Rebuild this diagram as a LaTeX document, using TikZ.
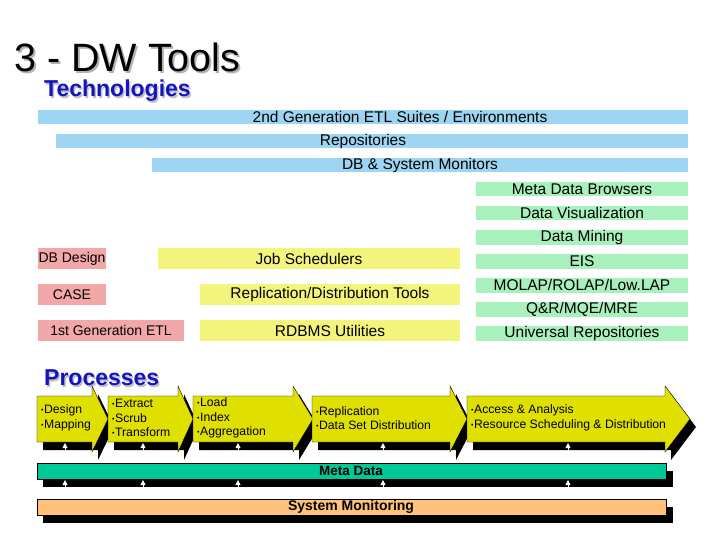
\documentclass[tikz,border=0pt]{standalone}
\usepackage{fontspec}
\usetikzlibrary{arrows.meta}
\setmainfont{Liberation Sans}
\definecolor{barblue}{HTML}{9DD4F2}
\definecolor{bargreen}{HTML}{A8F0BC}
\definecolor{barpink}{HTML}{F2A8A8}
\definecolor{baryel}{HTML}{F2F47C}
\definecolor{arryel}{HTML}{E0E000}
\definecolor{metateal}{HTML}{00C896}
\definecolor{sysor}{HTML}{FFC27A}
\definecolor{headblue}{HTML}{1414C0}
\newcommand\bul{{\fontsize{7}{8}\selectfont\raisebox{0.15em}{\textbullet}}\hspace{0.5pt}}
\newcommand\procarrow[5]{% x0, xh, tip, name, text
  \fill[black] ([shift={(6,8)}]#1,396) -- ([shift={(6,8)}]#2,396) -- ([shift={(6,8)}]#2,386) -- ([shift={(6,8)}]#3,419) -- ([shift={(6,8)}]#2,452) -- ([shift={(6,8)}]#2,442) -- ([shift={(6,8)}]#1,442) -- cycle;
  \fill[arryel,draw=black,line width=0.4pt] (#1,396) -- (#2,396) -- (#2,386) -- (#3,419) -- (#2,452) -- (#2,442) -- (#1,442) -- cycle;
  \node[ptext,anchor=west] (#4) at (#1+4,418) {#5};
}
\begin{document}
\begin{tikzpicture}[x=1pt,y=-1pt,
  bartext/.style={font=\fontsize{15.5}{17}\selectfont,inner sep=0pt},
  pinktext/.style={font=\fontsize{14}{16}\selectfont,inner sep=0pt},
  ptext/.style={font=\fontsize{12.2}{14.5}\selectfont,align=left,inner sep=0pt},
  hdr/.style={font=\fontsize{23}{25}\selectfont\bfseries,text=headblue,inner sep=0pt,anchor=west}]
\useasboundingbox (0,0) rectangle (720,540);
% title
\node[font=\fontsize{39.5}{41}\selectfont,text=gray!60,anchor=west,inner sep=0pt] at (14+2,57+2) {3 - DW Tools};
\node[font=\fontsize{39.5}{41}\selectfont,anchor=west,inner sep=0pt] (title) at (14,57) {3 - DW Tools};
\node[hdr,text=gray!50] at (45.5,92.5) {Technologies};
\node[hdr] (tech) at (44,91) {Technologies};
% top bars
\fill[barblue] (38,110) rectangle (688,124);
\node[bartext] (b1) at (400,117) {2nd Generation ETL Suites / Environments};
\fill[barblue] (56,134) rectangle (688,148);
\node[bartext] (b2) at (363,141) {Repositories};
\fill[barblue] (152,158) rectangle (688,172);
\node[bartext] (b3) at (420,165) {DB \& System Monitors};
% green column
\foreach \t [count=\i from 0] in {Meta Data Browsers,Data Visualization,Data Mining,EIS,MOLAP/ROLAP/Low.LAP,Q\&R/MQE/MRE,Universal Repositories}{
  \fill[bargreen] (476,182+24*\i) rectangle (688,196.5+24*\i);
  \node[bartext] (g\i) at (582,189+24*\i) {\t};
}
% pink
\fill[barpink] (38,248) rectangle (106,269);
\node[pinktext] (p1) at (72,258.5) {DB Design};
\fill[barpink] (38,284) rectangle (106,305);
\node[pinktext] (p2) at (72,294.5) {CASE};
\fill[barpink] (38,320) rectangle (184,341);
\node[pinktext] (p3) at (111,330.5) {1st Generation ETL};
% yellow
\fill[baryel] (158,248) rectangle (460,269);
\node[bartext] (y1) at (309,258.5) {Job Schedulers};
\fill[baryel] (200,284) rectangle (460,305);
\node[bartext] (y2) at (330,294.5) {Replication/Distribution Tools};
\fill[baryel] (200,320) rectangle (460,341);
\node[bartext] (y3) at (330,330.5) {RDBMS Utilities};
% processes
\node[hdr,text=gray!50] at (45.5,379.5) {Processes};
\node[hdr] (proc) at (44,378) {Processes};
% bars
\fill[black] (43,471) rectangle (673,487);
\fill[metateal,draw=black,line width=0.4pt] (37,463) rectangle (666,479);
\node[font=\fontsize{13.5}{15}\selectfont\bfseries,inner sep=0pt] (meta) at (351,471) {Meta Data};
\fill[black] (43,507) rectangle (673,523);
\fill[sysor,draw=black,line width=0.4pt] (37,499) rectangle (666,515);
\node[font=\fontsize{14}{15}\selectfont\bfseries,inner sep=0pt] (sysmon) at (351,507) {System Monitoring};
% arrows
\procarrow{37}{92}{108}{a1}{\bul Design\\\bul Mapping}
\procarrow{108}{178}{193}{a2}{\bul Extract\\\bul Scrub\\\bul Transform}
\procarrow{193}{293}{313}{a3}{\bul Load\\\bul Index\\\bul Aggregation}
\procarrow{312}{450}{467}{a4}{\bul Replication\\\bul Data Set Distribution}
\procarrow{467}{665}{690}{a5}{\bul Access \& Analysis\\\bul Resource Scheduling \& Distribution}
% small white up arrows
\foreach \x [count=\k] in {65,143,238,383,568}{
  \coordinate (u\k) at (\x,498);
  \coordinate (v\k) at (\x,480);
  \coordinate (w\k) at (\x,462);
  \coordinate (z\k) at (\x,443);
  \draw[white,line width=0.8pt,-{Triangle[width=5pt,length=5pt]}] (u\k) -- (v\k);
  \draw[white,line width=0.8pt,-{Triangle[width=5pt,length=5pt]}] (w\k) -- (z\k);
}
\end{tikzpicture}
\end{document}
